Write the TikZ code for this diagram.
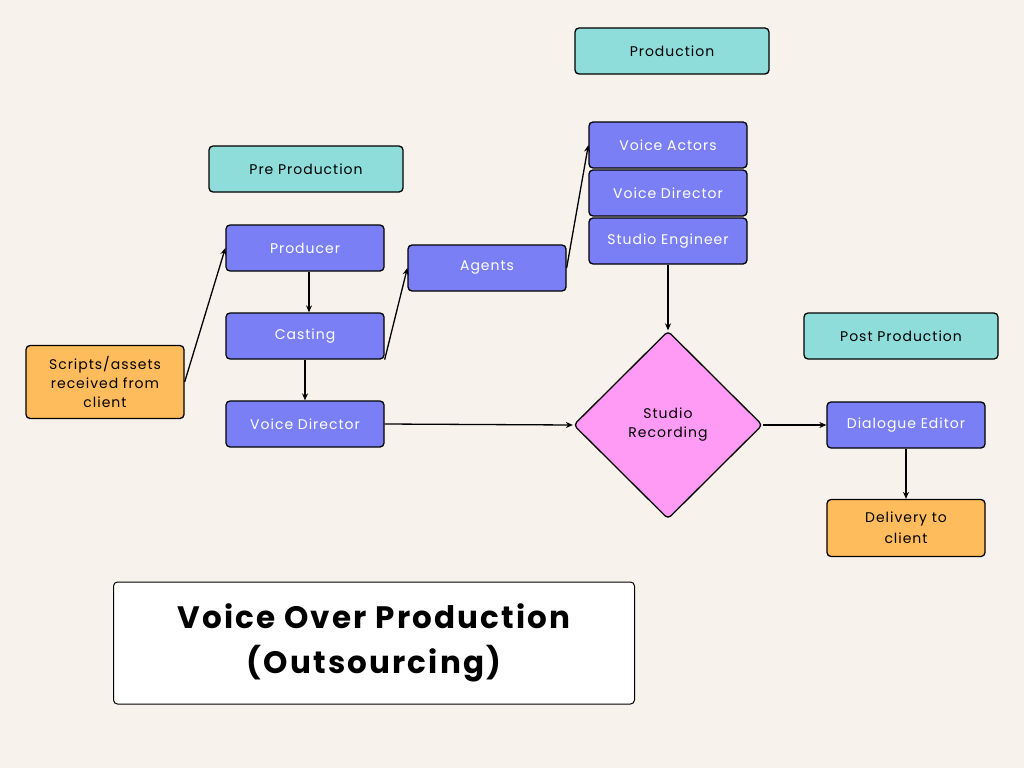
\documentclass[tikz,border=0pt]{standalone}
\usepackage{fontspec}
\setmainfont{Poppins}[LetterSpace=7]
\usetikzlibrary{shapes.geometric,arrows.meta}
\definecolor{bg}{HTML}{F7F3EC}
\definecolor{teal}{HTML}{8EDDDB}
\definecolor{blu}{HTML}{7B7FF6}
\definecolor{org}{HTML}{FFBC5C}
\definecolor{pnk}{HTML}{FF9BF5}
\begin{document}
\begin{tikzpicture}[x=1pt,y=-1pt,
 box/.style={draw=black,line width=1.3pt,rounded corners=4pt,minimum width=158pt,minimum height=46pt,inner sep=1pt,align=center,font=\fontsize{14}{17}\selectfont},
 phase/.style={box,fill=teal,minimum width=194pt,text=black},
 role/.style={box,fill=blu,text=white},
 ext/.style={box,fill=org,text=black},
 arr/.style={-{Stealth[length=7pt,width=6pt]},line width=1.3pt}]
\fill[bg] (0,0) rectangle (1024,768);
\useasboundingbox (0,0) rectangle (1024,768);
\node[phase] (prod) at (672,51) {Production};
\node[phase] (pre) at (306,169) {Pre Production};
\node[phase] (post) at (901,336) {Post Production};
\node[role] (producer) at (305,248) {Producer};
\node[role] (casting) at (305,336) {Casting};
\node[role] (vd1) at (305,424) {Voice Director};
\node[role] (agents) at (487,268) {Agents};
\node[role] (va) at (668,145) {Voice Actors};
\node[role] (vd2) at (668,193) {Voice Director};
\node[role] (se) at (668,241) {Studio Engineer};
\node[ext,minimum height=73pt,text width=154pt,font=\fontsize{14}{19}\selectfont] (scripts) at (105,382) {Scripts/assets\\received from\\client};
\node[diamond,draw=black,line width=1.3pt,fill=pnk,minimum width=189pt,minimum height=188pt,inner sep=0pt,align=center,font=\fontsize{14}{19}\selectfont,rounded corners=4pt] (rec) at (668,425) {Studio\\Recording};
\node[role] (de) at (906,425) {Dialogue Editor};
\node[ext,minimum height=57pt,font=\fontsize{14}{21}\selectfont] (del) at (906,528) {Delivery to\\client};
\node[draw=black,line width=1pt,rounded corners=4pt,fill=white,minimum width=521pt,minimum height=122pt,align=center,font=\fontsize{31}{45}\selectfont\bfseries] (title) at (374,643) {Voice Over Production\\(Outsourcing)};
\draw[arr] (scripts.east) -- (producer.west);
\draw[arr] ([xshift=4pt]producer.south) -- ([xshift=4pt]casting.north);
\draw[arr] (casting.south) -- (vd1.north);
\draw[arr] (casting.south east) -- (agents.west);
\draw[arr] (agents.east) -- (va.west);
\draw[arr] (vd1.east) -- (rec.west);
\draw[arr] (se.south) -- (rec.north);
\draw[arr] (rec.east) -- (de.west);
\draw[arr] (de.south) -- (del.north);
\end{tikzpicture}
\end{document}
